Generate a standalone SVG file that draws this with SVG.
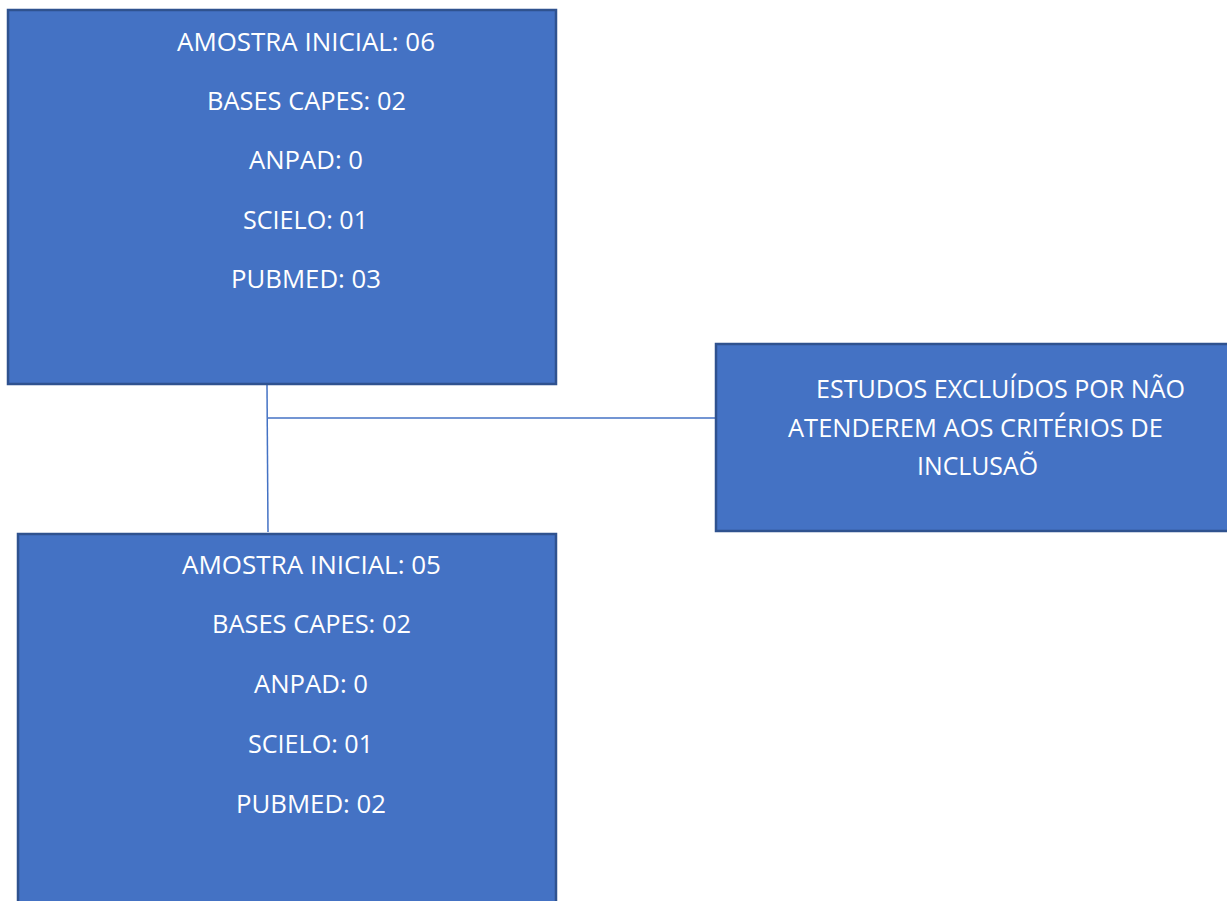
<svg xmlns="http://www.w3.org/2000/svg" width="1227" height="901" viewBox="0 0 1227 901">
<style>
.box{fill:#4472C4;stroke:#2F528F;stroke-width:2.5}
.t{font-family:"Open Sans","Liberation Sans",sans-serif;font-size:25px;fill:#FFFFFF}
.c{fill:none;stroke:#4472C4;stroke-width:1.5}
</style>
<rect width="1227" height="901" fill="#FFFFFF"/>
<g id="connectors">
<line class="c" x1="267" y1="385" x2="268" y2="532"/>
<line class="c" x1="268" y1="418" x2="716" y2="418"/>
</g>
<g id="node-amostra-06">
<rect class="box" x="8" y="10" width="548" height="374"/>
<text class="t" x="177" y="51" textLength="258" lengthAdjust="spacingAndGlyphs">AMOSTRA INICIAL: 06</text>
<text class="t" x="207" y="110" textLength="199" lengthAdjust="spacingAndGlyphs">BASES CAPES: 02</text>
<text class="t" x="249" y="169" textLength="114" lengthAdjust="spacingAndGlyphs">ANPAD: 0</text>
<text class="t" x="243" y="229" textLength="125" lengthAdjust="spacingAndGlyphs">SCIELO: 01</text>
<text class="t" x="231" y="288" textLength="150" lengthAdjust="spacingAndGlyphs">PUBMED: 03</text>
</g>
<g id="node-excluidos">
<rect class="box" x="716" y="344" width="520" height="187"/>
<text class="t" x="816" y="398" textLength="369" lengthAdjust="spacingAndGlyphs">ESTUDOS EXCLUÍDOS POR NÃO</text>
<text class="t" x="788" y="437" textLength="375" lengthAdjust="spacingAndGlyphs">ATENDEREM AOS CRITÉRIOS DE</text>
<text class="t" x="917" y="475" textLength="121" lengthAdjust="spacingAndGlyphs">INCLUSAÕ</text>
</g>
<g id="node-amostra-05">
<rect class="box" x="18" y="534" width="538" height="380"/>
<text class="t" x="182" y="574" textLength="259" lengthAdjust="spacingAndGlyphs">AMOSTRA INICIAL: 05</text>
<text class="t" x="212" y="633" textLength="199" lengthAdjust="spacingAndGlyphs">BASES CAPES: 02</text>
<text class="t" x="254" y="693" textLength="114" lengthAdjust="spacingAndGlyphs">ANPAD: 0</text>
<text class="t" x="248" y="753" textLength="125" lengthAdjust="spacingAndGlyphs">SCIELO: 01</text>
<text class="t" x="236" y="813" textLength="150" lengthAdjust="spacingAndGlyphs">PUBMED: 02</text>
</g>
</svg>
